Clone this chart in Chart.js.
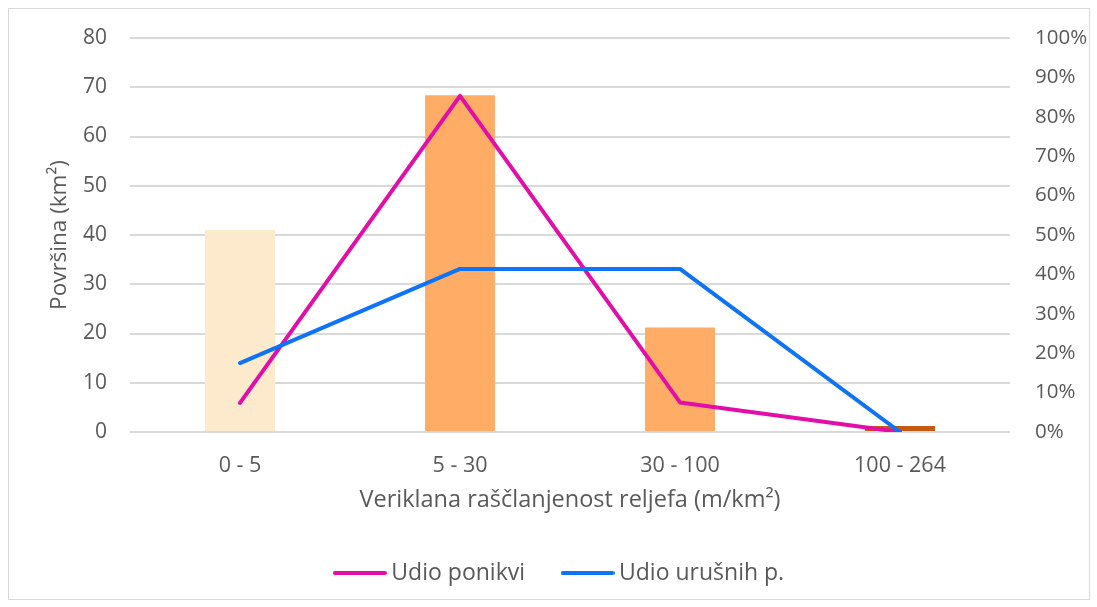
<!DOCTYPE html>
<html>
<head>
<meta charset="utf-8">
<script src="https://cdn.jsdelivr.net/npm/chart.js@4"></script>
<style>
  body { margin: 0; background: #fff; }
  #frame { position: absolute; left: 8px; top: 8px; width: 1080px; height: 590px; border: 1px solid #d9d9d9; }
  #wrap { position: absolute; left: 0; top: 0; width: 1097px; height: 607px; }
</style>
</head>
<body>
<div id="frame"></div>
<div id="wrap"><canvas id="myChart" width="1097" height="607"></canvas></div>
<script>
// Categories and values
const categories = ['0 - 5', '5 - 30', '30 - 100', '100 - 264'];
const povrsina = [41.0, 68.4, 21.2, 1.2];          // km2, left axis
const udioPonikvi = [0.074, 0.853, 0.075, 0.0];    // right axis
const udioUrusnih = [0.175, 0.414, 0.414, 0.0];    // right axis
const barColors = ['#FDE9CB', '#FFAD66', '#FFAD66', '#C55A11'];

const pink = '#E10EA8';
const blue = '#0F73F5';
const textColor = '#595959';
const gridColor = '#d9d9d9';

Chart.defaults.font.family = '"Open Sans", "Noto Sans", sans-serif';
Chart.defaults.color = textColor;

// legend marker: short line with round caps, a bit wider than the box so the text sits close
function legendLine(color) {
    const c = document.createElement('canvas');
    c.width = 54;
    c.height = 6;
    const g = c.getContext('2d');
    g.strokeStyle = color;
    g.lineWidth = 4;
    g.lineCap = 'round';
    g.beginPath();
    g.moveTo(2, 3);
    g.lineTo(52, 3);
    g.stroke();
    return c;
}

const ctx = document.getElementById('myChart').getContext('2d');

new Chart(ctx, {
    type: 'bar',
    data: {
        labels: categories,
        datasets: [
            {
                type: 'line',
                label: 'Udio ponikvi',
                data: udioPonikvi,
                yAxisID: 'y1',
                borderColor: pink,
                backgroundColor: pink,
                borderWidth: 4,
                pointRadius: 0,
                pointStyle: legendLine(pink),
                borderCapStyle: 'round',
                borderJoinStyle: 'round',
                order: 1
            },
            {
                type: 'line',
                label: 'Udio urušnih p.',
                data: udioUrusnih,
                yAxisID: 'y1',
                borderColor: blue,
                backgroundColor: blue,
                borderWidth: 4,
                pointRadius: 0,
                pointStyle: legendLine(blue),
                borderCapStyle: 'round',
                borderJoinStyle: 'round',
                order: 0
            },
            {
                label: 'Površina',
                data: povrsina,
                yAxisID: 'y',
                backgroundColor: barColors,
                categoryPercentage: 1,
                barPercentage: 0.318,
                order: 2
            }
        ]
    },
    options: {
        responsive: false,
        animation: false,
        layout: { padding: { left: 37, right: 10, top: 38, bottom: 12.5 } },
        plugins: {
            legend: {
                position: 'bottom',
                labels: {
                    filter: item => item.text !== 'Površina',
                    sort: (a, b) => a.datasetIndex - b.datasetIndex,
                    usePointStyle: true,
                    pointStyleWidth: 40,
                    padding: 42.5,
                    color: textColor,
                    font: { size: 23 }
                }
            },
            tooltip: { enabled: false }
        },
        scales: {
            x: {
                grid: { display: false },
                border: { display: false },
                ticks: { padding: 13, font: { size: 21.5 } },
                title: {
                    display: true,
                    text: 'Veriklana raščlanjenost reljefa (m/km²)',
                    font: { size: 23.5 },
                    padding: { top: 0, bottom: 5 }
                },
                afterFit: scale => { scale.height = 87; }
            },
            y: {
                position: 'left',
                min: 0,
                max: 80,
                ticks: { stepSize: 10, padding: 23, font: { size: 21 } },
                grid: { color: gridColor, lineWidth: 2, drawTicks: false },
                border: { display: false },
                title: {
                    display: true,
                    text: 'Površina (km²)',
                    font: { size: 22.5 },
                    padding: { top: 9, bottom: 0 }
                },
                afterFit: scale => { scale.width = 93; }
            },
            y1: {
                position: 'right',
                min: 0,
                max: 1,
                ticks: {
                    stepSize: 0.1,
                    padding: 25,
                    font: { size: 20.5 },
                    callback: v => Math.round(v * 100) + '%'
                },
                grid: { drawOnChartArea: false, drawTicks: false },
                border: { display: false },
                afterFit: scale => { scale.width = 77; }
            }
        }
    }
});
</script>
</body>
</html>
